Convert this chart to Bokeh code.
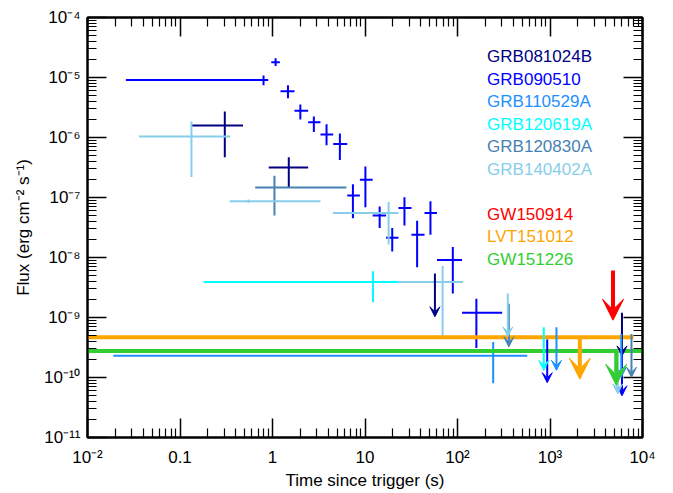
from bokeh.plotting import figure
from bokeh.models import (FixedTicker, LogAxis, Arrow, VeeHead, Label,
                          ColumnDataSource, Range1d)
from bokeh.embed import file_html
from bokeh.resources import INLINE

# ---------------- data ----------------
GRB_NAMES = ["GRB081024B", "GRB090510", "GRB110529A", "GRB120619A", "GRB120830A", "GRB140402A"]
GRB_COLORS = ["#000080", "#0000FF", "#1E90FF", "#00FFFF", "#4682B4", "#87CEEB"]

# GRB081024B
GRB081024B_T = [0.305, 1.5]
GRB081024B_T_LO = [0.133, 0.91]
GRB081024B_T_HI = [0.48, 2.43]
GRB081024B_F = [1.58e-6, 3.16e-7]
GRB081024B_F_LO = [4.7e-7, 1.49e-7]
GRB081024B_F_HI = [2.7e-6, 4.7e-7]
GRB081024B_UL_T = [57, 6000]
GRB081024B_UL_F = [5.4e-9, 1.2e-9]

# GRB090510
GRB090510_T = [0.8, 1.08, 1.47, 2.0, 2.8, 3.84, 5.35, 7.4, 10.1, 14.4, 19.7, 26.7, 36.6, 51, 89, 160]
GRB090510_T_LO = [0.026, 0.97, 1.22, 1.73, 2.43, 3.3, 4.53, 6.43, 8.8, 12.1, 16.9, 23, 31.8, 44, 60, 112]
GRB090510_T_HI = [0.9, 1.2, 1.73, 2.43, 3.3, 4.53, 6.43, 8.8, 12.1, 16.9, 23, 31.8, 44, 60, 112, 304]
GRB090510_F = [9.1e-6, 1.8e-5, 5.9e-6, 2.8e-6, 1.8e-6, 1.12e-6, 7.8e-7, 1.08e-7, 1.97e-7,
               5.0e-8, 2.13e-8, 6.7e-8, 2.4e-8, 5.5e-8, 9.1e-9, 1.2e-9]
GRB090510_F_LO = [7.4e-6, 1.55e-5, 4.5e-6, 2.0e-6, 1.23e-6, 7.4e-7, 4.2e-7, 4.5e-8, 6.9e-8,
                  3.1e-8, 1.26e-8, 3.4e-8, 6.9e-9, 2.4e-8, 2.5e-9, 3.1e-10]
GRB090510_F_HI = [1.08e-5, 2.1e-5, 7.4e-6, 3.55e-6, 2.24e-6, 1.66e-6, 1.17e-6, 1.66e-7, 3.3e-7,
                  7.1e-8, 3.1e-8, 1.01e-7, 4.1e-8, 8.7e-8, 1.5e-8, 2.05e-9]
GRB090510_UL_T = [933, 6000]
GRB090510_UL_F = [4.3e-10, 2.6e-10]

# GRB110529A
GRB110529A_T = [243]
GRB110529A_T_LO = [0.019]
GRB110529A_T_HI = [568]
GRB110529A_F = [2.3e-10]
GRB110529A_F_LO = [8.0e-11]
GRB110529A_F_HI = [3.9e-10]
GRB110529A_UL_T = [1175, 5900]
GRB110529A_UL_F = [6.9e-10, 5.3e-10]

# GRB120619A
GRB120619A_T = [12.2]
GRB120619A_T_LO = [0.18]
GRB120619A_T_HI = [23]
GRB120619A_F = [3.9e-9]
GRB120619A_F_LO = [1.8e-9]
GRB120619A_F_HI = [5.9e-9]
GRB120619A_UL_T = [857]
GRB120619A_UL_F = [6.9e-10]

# GRB120830A
GRB120830A_T = [1.05]
GRB120830A_T_LO = [0.65]
GRB120830A_T_HI = [6.3]
GRB120830A_F = [1.47e-7]
GRB120830A_F_LO = [5.0e-8]
GRB120830A_F_HI = [2.3e-7]
GRB120830A_UL_T = [359, 7600]
GRB120830A_UL_F = [1.7e-9, 5.3e-10]

# GRB140402A
GRB140402A_T = [0.133, 0.55, 18, 69]
GRB140402A_T_LO = [0.036, 0.345, 4.5, 23]
GRB140402A_T_HI = [0.35, 3.3, 23, 115]
GRB140402A_F = [1.04e-6, 8.7e-8, 5.5e-8, 3.9e-9]
GRB140402A_F_LO = [2.2e-7, 8.2e-8, 1.65e-8, 4.8e-10]
GRB140402A_F_HI = [1.85e-6, 9.3e-8, 8.4e-8, 7.2e-9]
GRB140402A_UL_T = [350, 5400]
GRB140402A_UL_F = [2.5e-9, 2.8e-10]

# Gravitational-wave events
GW_NAMES = ["GW150914", "LVT151012", "GW151226"]
GW_COLORS = ["#FF0000", "#FFA500", "#32CD32"]
GW_UL_T = [4800, 2100, 5200]
GW_UL_F = [6.1e-9, 4.7e-10, 2.76e-10]
LVT151012_LEVEL = 4.7e-10
LVT151012_SPAN = [0.01, 8000]
GW151226_LEVEL = 2.76e-10
GW151226_SPAN = [0.01, 10000]

X_TICKS = [1e-2, 1e-1, 1e0, 1e1, 1e2, 1e3, 1e4]
X_TICK_LABELS = ["10⁻²", "0.1", "1", "10", "10²", "10³", "10⁴"]
Y_TICKS = [1e-11, 1e-10, 1e-9, 1e-8, 1e-7, 1e-6, 1e-5, 1e-4]
Y_TICK_LABELS = ["10⁻¹¹", "10⁻¹⁰", "10⁻⁹", "10⁻⁸", "10⁻⁷", "10⁻⁶", "10⁻⁵", "10⁻⁴"]

# ---------------- style ----------------
FONT = "Liberation Sans"
UL_DROP = 10 ** 0.72
GW_DROP_DEX = [0.83, 0.70, 0.57]
LEGEND_X = 209
LEGEND_TOP_DEX = -4.65
LEGEND_STEP_DEX = 0.3755

series = [
    (GRB081024B_T, GRB081024B_T_LO, GRB081024B_T_HI, GRB081024B_F, GRB081024B_F_LO, GRB081024B_F_HI, GRB081024B_UL_T, GRB081024B_UL_F),
    (GRB090510_T, GRB090510_T_LO, GRB090510_T_HI, GRB090510_F, GRB090510_F_LO, GRB090510_F_HI, GRB090510_UL_T, GRB090510_UL_F),
    (GRB110529A_T, GRB110529A_T_LO, GRB110529A_T_HI, GRB110529A_F, GRB110529A_F_LO, GRB110529A_F_HI, GRB110529A_UL_T, GRB110529A_UL_F),
    (GRB120619A_T, GRB120619A_T_LO, GRB120619A_T_HI, GRB120619A_F, GRB120619A_F_LO, GRB120619A_F_HI, GRB120619A_UL_T, GRB120619A_UL_F),
    (GRB120830A_T, GRB120830A_T_LO, GRB120830A_T_HI, GRB120830A_F, GRB120830A_F_LO, GRB120830A_F_HI, GRB120830A_UL_T, GRB120830A_UL_F),
    (GRB140402A_T, GRB140402A_T_LO, GRB140402A_T_HI, GRB140402A_F, GRB140402A_F_LO, GRB140402A_F_HI, GRB140402A_UL_T, GRB140402A_UL_F),
]

p = figure(width=672, height=492, x_axis_type="log", y_axis_type="log",
           x_range=Range1d(1e-2, 1e4), y_range=Range1d(1e-11, 1e-4),
           output_backend="svg", toolbar_location=None,
           min_border_left=87, min_border_right=30, min_border_top=17, min_border_bottom=55)
p.grid.visible = False
p.outline_line_color = "black"
p.outline_line_width = 2
p.background_fill_color = "white"
p.border_fill_color = "white"

bottom_ax = p.below[0]
left_ax = p.left[0]

minor_x = [k * 10.0 ** e for e in range(-2, 4) for k in range(2, 10)]
minor_y = [k * 10.0 ** e for e in range(-11, -4) for k in range(2, 10)]
xt = FixedTicker(ticks=X_TICKS, minor_ticks=minor_x)
yt = FixedTicker(ticks=Y_TICKS, minor_ticks=minor_y)

bottom_ax.ticker = xt
left_ax.ticker = yt
bottom_ax.major_label_overrides = {t: l for t, l in zip(X_TICKS, X_TICK_LABELS)}
left_ax.major_label_overrides = {t: l for t, l in zip(Y_TICKS, Y_TICK_LABELS)}
bottom_ax.axis_label = "Time since trigger (s)"
left_ax.axis_label = "Flux (erg cm⁻² s⁻¹)"

top_ax = LogAxis(ticker=xt)
right_ax = LogAxis(ticker=yt)
p.add_layout(top_ax, "above")
p.add_layout(right_ax, "right")

for ax in [bottom_ax, left_ax, top_ax, right_ax]:
    ax.axis_line_color = "black"
    ax.axis_line_width = 2
    ax.major_tick_in = 19
    ax.major_tick_out = 0
    ax.minor_tick_in = 9
    ax.minor_tick_out = 0
    ax.major_tick_line_width = 1.5
    ax.minor_tick_line_width = 1.2
    ax.major_tick_line_color = "black"
    ax.minor_tick_line_color = "black"
    ax.major_label_text_font = FONT
    ax.major_label_text_font_size = "17px"
    ax.major_label_text_color = "black"
    ax.axis_label_text_font = FONT
    ax.axis_label_text_font_size = "17px"
    ax.axis_label_text_font_style = "normal"
    ax.axis_label_text_color = "black"

for ax in [top_ax, right_ax]:
    ax.major_label_text_font_size = "6px"
    ax.major_label_text_color = None
    ax.major_label_standoff = 0

bottom_ax.major_label_standoff = 10
bottom_ax.axis_label_standoff = 1
left_ax.major_label_standoff = 7
left_ax.axis_label_standoff = 8

# GRB error bars
for (t, tlo, thi, f, flo, fhi, ut, uf), col in zip(series, GRB_COLORS):
    p.segment(x0=tlo, y0=f, x1=thi, y1=f, line_color=col, line_width=2)
    p.segment(x0=t, y0=flo, x1=t, y1=fhi, line_color=col, line_width=2)

# GW horizontal levels
p.segment(x0=[LVT151012_SPAN[0]], y0=[LVT151012_LEVEL], x1=[LVT151012_SPAN[1]], y1=[LVT151012_LEVEL],
          line_color=GW_COLORS[1], line_width=4)
p.segment(x0=[GW151226_SPAN[0]], y0=[GW151226_LEVEL], x1=[GW151226_SPAN[1]], y1=[GW151226_LEVEL],
          line_color=GW_COLORS[2], line_width=4)

# GRB upper limits
for (t, tlo, thi, f, flo, fhi, ut, uf), col in zip(series, GRB_COLORS):
    src = ColumnDataSource(dict(x=ut, y=uf, y2=[v / UL_DROP for v in uf]))
    p.add_layout(Arrow(x_start="x", y_start="y", x_end="x", y_end="y2", source=src,
                       line_color=col, line_width=2,
                       end=VeeHead(size=10, fill_color=col, line_color=col, line_width=1)))

# GW upper limits
for t, f, d, col in zip(GW_UL_T, GW_UL_F, GW_DROP_DEX, GW_COLORS):
    src = ColumnDataSource(dict(x=[t], y=[f], y2=[f / 10 ** d]))
    p.add_layout(Arrow(x_start="x", y_start="y", x_end="x", y_end="y2", source=src,
                       line_color=col, line_width=4,
                       end=VeeHead(size=21, fill_color=col, line_color=col, line_width=1)))

# legend texts
for i, (name, col) in enumerate(zip(GRB_NAMES, GRB_COLORS)):
    p.add_layout(Label(x=LEGEND_X, y=10 ** (LEGEND_TOP_DEX - i * LEGEND_STEP_DEX), text=name,
                       text_color=col, text_font=FONT, text_font_size="17px",
                       text_baseline="middle", text_align="left"))
for j, (name, col) in enumerate(zip(GW_NAMES, GW_COLORS)):
    i = j + 7
    p.add_layout(Label(x=LEGEND_X, y=10 ** (LEGEND_TOP_DEX - i * LEGEND_STEP_DEX), text=name,
                       text_color=col, text_font=FONT, text_font_size="17px",
                       text_baseline="middle", text_align="left"))

open("out.html", "w").write(file_html(p, INLINE))
